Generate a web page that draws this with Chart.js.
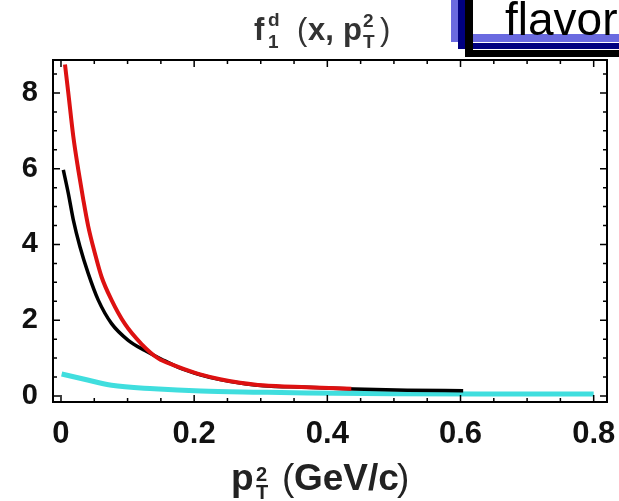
<!DOCTYPE html>
<html>
<head>
<meta charset="utf-8">
<script src="https://cdn.jsdelivr.net/npm/chart.js@4.4.0/dist/chart.umd.min.js"></script>
<style>
  html, body { margin: 0; padding: 0; background: #fff; }
  #wrap { width: 619px; height: 501px; }
</style>
</head>
<body>
<div id="wrap"><canvas id="myChart" width="619" height="501"></canvas></div>
<script>
// tick labels
const xTickValues = [0, 0.2, 0.4, 0.6, 0.8];
const xTickLabels = ['0', '0.2', '0.4', '0.6', '0.8'];
const yTickValues = [0, 2, 4, 6, 8];
const yTickLabels = ['0', '2', '4', '6', '8'];

// red curve
const redX = [0.006, 0.011, 0.0185, 0.026, 0.0335, 0.041, 0.051, 0.061, 0.076, 0.096, 0.121, 0.146, 0.171, 0.196, 0.209, 0.239, 0.269, 0.303, 0.369, 0.436];
const redY = [8.75, 8.0, 6.85, 5.97, 5.18, 4.47, 3.76, 3.14, 2.53, 1.9, 1.37, 0.99, 0.8, 0.64, 0.57, 0.44, 0.35, 0.28, 0.23, 0.19];

// black curve
const blackX = [0.0035, 0.011, 0.0185, 0.0285, 0.041, 0.056, 0.076, 0.101, 0.126, 0.151, 0.181, 0.209, 0.239, 0.269, 0.303, 0.369, 0.44, 0.52, 0.604];
const blackY = [5.97, 5.35, 4.65, 3.94, 3.23, 2.53, 1.91, 1.47, 1.2, 0.97, 0.72, 0.56, 0.43, 0.34, 0.27, 0.23, 0.18, 0.15, 0.14];

// cyan curve
const cyanX = [0.001, 0.04, 0.076, 0.14, 0.21, 0.3, 0.37, 0.5, 0.63, 0.8];
const cyanY = [0.58, 0.42, 0.28, 0.19, 0.13, 0.1, 0.08, 0.06, 0.05, 0.05];

const FONT = "'Liberation Sans', Arial, sans-serif";

function pts(xs, ys) {
  return xs.map((x, i) => ({ x: x, y: ys[i] }));
}

// titre + cadre + petite boite "flavor"
const decor = {
  id: 'decor',
  afterDraw(chart) {
    const ctx = chart.ctx;
    const a = chart.chartArea;
    ctx.save();

    // cadre avec ticks vers l'interieur
    ctx.strokeStyle = '#000';
    ctx.lineWidth = 2;
    ctx.strokeRect(a.left, a.top, a.right - a.left, a.bottom - a.top);
    ctx.lineWidth = 1.5;
    chart.scales.x.ticks.forEach(t => {
      const px = chart.scales.x.getPixelForValue(t.value);
      const len = t.label !== '' ? 7 : 4;
      ctx.beginPath();
      ctx.moveTo(px, a.bottom); ctx.lineTo(px, a.bottom - len);
      ctx.moveTo(px, a.top); ctx.lineTo(px, a.top + len);
      ctx.stroke();
    });
    chart.scales.y.ticks.forEach(t => {
      const py = chart.scales.y.getPixelForValue(t.value);
      const len = t.label !== '' ? 7 : 4;
      ctx.beginPath();
      ctx.moveTo(a.left, py); ctx.lineTo(a.left + len, py);
      ctx.moveTo(a.right, py); ctx.lineTo(a.right - len, py);
      ctx.stroke();
    });

    // titre du graphe
    ctx.fillStyle = '#333';
    ctx.textBaseline = 'alphabetic';
    ctx.textAlign = 'left';
    ctx.font = 'bold 31px ' + FONT;
    ctx.fillText('f', 254, 40);
    ctx.font = 'bold 19px ' + FONT;
    ctx.fillText('d', 268, 26);
    ctx.fillText('1', 268, 48);
    ctx.font = '31px ' + FONT;
    ctx.fillText('(', 297, 40);
    ctx.font = 'bold 31px ' + FONT;
    ctx.fillText('x,', 308, 40);
    ctx.fillText('p', 343, 40);
    ctx.font = 'bold 19px ' + FONT;
    ctx.fillText('2', 363, 27);
    ctx.fillText('T', 363, 48);
    ctx.font = '31px ' + FONT;
    ctx.fillText(')', 380, 40);

    // titre axe x
    ctx.fillStyle = '#222';
    ctx.font = 'bold 37px ' + FONT;
    ctx.fillText('p', 231, 490);
    ctx.font = 'bold 20px ' + FONT;
    ctx.fillText('2', 256, 481);
    ctx.fillText('T', 256, 499);
    ctx.font = '37px ' + FONT;
    ctx.fillText('(', 282, 490);
    ctx.font = 'bold 37px ' + FONT;
    ctx.fillText('GeV/c', 294, 490);
    ctx.font = '37px ' + FONT;
    ctx.fillText(')', 397, 490);

    // boite "flavor" coupee en haut a droite
    ctx.fillStyle = '#6a6ae0';
    ctx.fillRect(451, 0, 168, 42);
    ctx.fillStyle = '#fff';
    ctx.fillRect(473, 0, 146, 34);
    ctx.fillRect(458, 42, 161, 1);
    ctx.fillStyle = '#000080';
    ctx.fillRect(458, 0, 7, 49);
    ctx.fillRect(458, 43, 161, 6);
    ctx.fillStyle = '#000';
    ctx.fillRect(465, 0, 8, 57);
    ctx.fillRect(465, 50, 154, 7);
    ctx.font = '46px ' + FONT;
    ctx.fillText('flavor', 505, 35);

    ctx.restore();
  }
};

const ctx = document.getElementById('myChart').getContext('2d');
new Chart(ctx, {
  type: 'line',
  data: {
    datasets: [
      { data: pts(redX, redY), borderColor: '#dd1111', borderWidth: 4, order: 0 },
      { data: pts(blackX, blackY), borderColor: '#000000', borderWidth: 3.5, order: 1 },
      { data: pts(cyanX, cyanY), borderColor: '#40dede', borderWidth: 5, order: 2 }
    ]
  },
  options: {
    responsive: false,
    animation: false,
    devicePixelRatio: 1,
    layout: { padding: { top: 60, right: 12, left: 0, bottom: 0 } },
    elements: { point: { radius: 0 }, line: { cubicInterpolationMode: 'monotone', fill: false } },
    plugins: { legend: { display: false }, title: { display: false }, tooltip: { enabled: false } },
    scales: {
      x: {
        type: 'linear',
        min: -0.012,
        max: 0.82,
        grid: { display: false, drawTicks: false },
        border: { display: false },
        afterFit: s => { s.height = 99; s.paddingLeft = 0; s.paddingRight = 0; },
        afterBuildTicks: s => {
          const t = [];
          for (let i = 0; i <= 16; i++) t.push({ value: Math.round(i * 5) / 100 });
          s.ticks = t;
        },
        ticks: {
          autoSkip: false,
          maxRotation: 0,
          padding: 14,
          color: '#111',
          font: { family: FONT, size: 31, weight: 'bold' },
          callback: function(value) {
            const k = xTickValues.findIndex(v => Math.abs(v - value) < 1e-6);
            return k >= 0 ? xTickLabels[k] : '';
          }
        }
      },
      y: {
        min: -0.16,
        max: 8.87,
        grid: { display: false, drawTicks: false },
        border: { display: false },
        afterFit: s => { s.width = 53; s.paddingTop = 0; s.paddingBottom = 0; },
        afterBuildTicks: s => {
          const t = [];
          for (let i = 0; i <= 17; i++) t.push({ value: i * 0.5 });
          s.ticks = t;
        },
        ticks: {
          autoSkip: false,
          padding: 15,
          color: '#111',
          font: { family: FONT, size: 29, weight: 'bold' },
          callback: function(value) {
            const k = yTickValues.findIndex(v => Math.abs(v - value) < 1e-6);
            return k >= 0 ? yTickLabels[k] : '';
          }
        }
      }
    }
  },
  plugins: [decor]
});
</script>
</body>
</html>
